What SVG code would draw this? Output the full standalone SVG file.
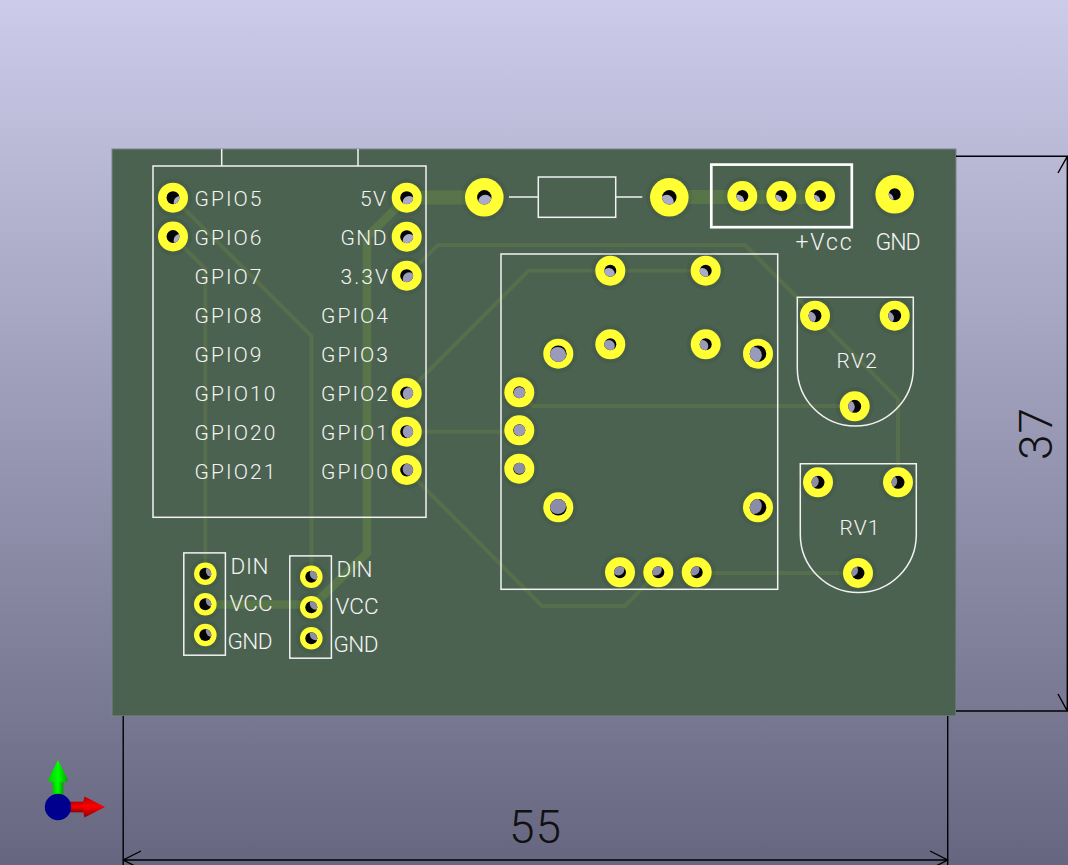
<svg xmlns="http://www.w3.org/2000/svg" width="1068" height="865" viewBox="0 0 1068 865">
<defs>
<linearGradient id="bg" x1="0" y1="0" x2="0" y2="1"><stop offset="0" stop-color="#ccccea"/><stop offset="1" stop-color="#666680"/></linearGradient>
<linearGradient id="gc" x1="0" y1="0" x2="1" y2="0"><stop offset="0" stop-color="#00c800"/><stop offset=".5" stop-color="#00ff00"/><stop offset="1" stop-color="#00a000"/></linearGradient>
<linearGradient id="rc" x1="0" y1="0" x2="0" y2="1"><stop offset="0" stop-color="#b00000"/><stop offset=".45" stop-color="#ff0000"/><stop offset="1" stop-color="#900000"/></linearGradient>
<clipPath id="h6"><circle r="6"/></clipPath>
<clipPath id="h65"><circle r="6.5"/></clipPath>
<clipPath id="h7"><circle r="7.2"/></clipPath>
<clipPath id="h8"><circle r="8.3"/></clipPath>
</defs>
<style>
.p15{fill:#ffff33;stroke:#000000;stroke-opacity:.05;stroke-width:8;paint-order:stroke}
.b{fill:#050505}
.g1{fill:#aaaacb}
.g2{fill:#9a9aba}
.g3{fill:#8c8ca8}
.thin{fill:none;stroke:#566e4b;stroke-width:4;stroke-linejoin:miter}
.mid{fill:none;stroke:#587549;stroke-width:8.5}
.thick{fill:none;stroke:#587549;stroke-width:14}
.silk{fill:none;stroke:#f2f2f2;stroke-width:1.5}
.silk2{fill:none;stroke:#ffffff;stroke-width:2.7}
.dim{fill:none;stroke:#000000;stroke-width:1.4}
text{font-family:"Roboto","Noto Sans","Liberation Sans",sans-serif;font-weight:300;fill:#f4f4f4;font-size:21px}
.c{font-size:22.5px}
.l{font-size:23px}
.big{fill:#111111;font-size:46px;font-weight:300}
</style>
<rect width="1068" height="865" fill="url(#bg)"/>
<rect id="board" x="112" y="149" width="844" height="567" fill="#4b6250" stroke="#75868a" stroke-width="1"/>

<g id="connectors">
<path class="thick" d="M407 197.5H484M669 197H820"/>
<path class="mid" d="M406.7 197.7L367 237V553L311.3 607M205.3 604.5H311.3"/>
<path class="thin" d="M173 197.7L311.5 336V576.7"/>
<path class="thin" d="M173 236.5L205.3 269V573.7"/>
<path class="thin" d="M406.7 275.7L438 245H745L898 399V482"/>
<path class="thin" d="M406.7 393L528.5 270.7H705.7"/>
<path class="thin" d="M406.7 431.7H519.3"/>
<path class="thin" d="M406.7 470L542 606H625L658.3 572.3"/>
<path class="thin" d="M519.3 392.3L533 406H854.7"/>
<path class="thin" d="M696.7 573H858"/>
</g>

<g id="U1">
<rect class="silk" x="153" y="166" width="273" height="351.3"/>
<path class="silk" d="M221.7 149V166M358 149V166"/>
<text x="194.5" y="205.7" textLength="67">GPIO5</text>
<text x="194.5" y="244.9" textLength="67">GPIO6</text>
<text x="194.5" y="283.9" textLength="67">GPIO7</text>
<text x="194.5" y="322.7" textLength="67">GPIO8</text>
<text x="194.5" y="361.7" textLength="67">GPIO9</text>
<text x="194.5" y="400.7" textLength="81">GPIO10</text>
<text x="194.5" y="439.7" textLength="81">GPIO20</text>
<text x="194.5" y="478.7" textLength="81">GPIO21</text>
<text x="360" y="205.7" textLength="26">5V</text>
<text x="340.5" y="244.9" textLength="46">GND</text>
<text x="340.5" y="283.9" textLength="47.5">3.3V</text>
<text x="321" y="322.7" textLength="67">GPIO4</text>
<text x="321" y="361.7" textLength="67">GPIO3</text>
<text x="321" y="400.7" textLength="67">GPIO2</text>
<text x="321" y="439.7" textLength="67">GPIO1</text>
<text x="321" y="478.7" textLength="67">GPIO0</text>
<g transform="translate(173 197.7)"><circle class="p15" r="15"/><g clip-path="url(#h65)"><circle class="b" r="7"/><circle class="g1" cx="7.2" cy="4.7" r="6.5"/></g></g>
<g transform="translate(173 236.5)"><circle class="p15" r="15"/><g clip-path="url(#h65)"><circle class="b" r="7"/><circle class="g1" cx="7.2" cy="3.9" r="6.5"/></g></g>
<g transform="translate(406.7 197.7)"><circle class="p15" r="15"/><g clip-path="url(#h65)"><circle class="b" r="7"/><circle class="g1" cx="2.5" cy="4.7" r="6.5"/></g></g>
<g transform="translate(406.7 236.7)"><circle class="p15" r="15"/><g clip-path="url(#h65)"><circle class="b" r="7"/><circle class="g1" cx="2.5" cy="3.9" r="6.5"/></g></g>
<g transform="translate(406.7 275.7)"><circle class="p15" r="15"/><g clip-path="url(#h65)"><circle class="b" r="7"/><circle class="g2" cx="2.5" cy="3.1" r="6.5"/></g></g>
<g transform="translate(406.7 393)"><circle class="p15" r="15"/><g clip-path="url(#h65)"><circle class="b" r="7"/><circle class="g2" cx="2.5" cy=".8" r="6.5"/></g></g>
<g transform="translate(406.7 431.7)"><circle class="p15" r="15"/><g clip-path="url(#h65)"><circle class="b" r="7"/><circle class="g2" cx="2.5" r="6.5"/></g></g>
<g transform="translate(406.7 470)"><circle class="p15" r="15"/><g clip-path="url(#h65)"><circle class="b" r="7"/><circle class="g3" cx="2.5" cy="-.8" r="6.5"/></g></g>
</g>

<g id="R1">
<rect class="silk" x="538.3" y="177" width="77.4" height="40.3"/>
<path class="silk" d="M509 197H538.3M615.7 197H642.3"/>
<g transform="translate(484.3 197.3)"><circle class="p15" r="19.3"/><g clip-path="url(#h7)"><circle class="b" r="8"/><circle class="g1" cx="1" cy="4.7" r="7.2"/></g></g>
<g transform="translate(669.3 197.3)"><circle class="p15" r="19.3"/><g clip-path="url(#h7)"><circle class="b" r="8"/><circle class="g1" cx="-2.7" cy="4.7" r="7.2"/></g></g>
</g>

<g id="J_Vcc">
<rect class="silk2" x="711.3" y="164.6" width="140.5" height="62.6"/>
<g transform="translate(742.3 196)"><circle class="p15" r="15"/><g clip-path="url(#h6)"><circle class="b" r="7"/><circle class="g1" cx="-4.2" cy="4.7" r="6"/></g></g>
<g transform="translate(781.3 196)"><circle class="p15" r="15"/><g clip-path="url(#h6)"><circle class="b" r="7"/><circle class="g1" cx="-5" cy="4.7" r="6"/></g></g>
<g transform="translate(820 196)"><circle class="p15" r="15"/><g clip-path="url(#h6)"><circle class="b" r="7"/><circle class="g1" cx="-5.7" cy="4.7" r="6"/></g></g>
<text class="l" x="795.5" y="250" textLength="56">+Vcc</text>
</g>

<g id="J_GND">
<g transform="translate(894.7 194.3)"><circle class="p15" r="19.3"/><g clip-path="url(#h6)"><circle class="b" r="7"/><circle class="g1" cx="-7.2" cy="4.7" r="6"/></g></g>
<text class="l" x="875.5" y="250" textLength="45">GND</text>
</g>

<g id="SW1">
<rect class="silk" x="501" y="254" width="276.7" height="335.3"/>
<g transform="translate(610.3 270.7)"><circle class="p15" r="15"/><g clip-path="url(#h6)"><circle class="b" r="7"/><circle class="g1" cx="-1.5" cy="3.2" r="6"/></g></g>
<g transform="translate(705.7 270.7)"><circle class="p15" r="15"/><g clip-path="url(#h6)"><circle class="b" r="7"/><circle class="g1" cx="-3.4" cy="3.2" r="6"/></g></g>
<g transform="translate(610.3 344.3)"><circle class="p15" r="15"/><g clip-path="url(#h6)"><circle class="b" r="7"/><circle class="g2" cx="-1.5" cy="1.7" r="6"/></g></g>
<g transform="translate(705.7 344.3)"><circle class="p15" r="15"/><g clip-path="url(#h6)"><circle class="b" r="7"/><circle class="g2" cx="-3.4" cy="1.7" r="6"/></g></g>
<g transform="translate(558.3 353.7)"><circle class="p15" r="15"/><g clip-path="url(#h8)"><circle class="b" r="9"/><circle class="g2" cx="-.5" cy="1.5" r="8.3"/></g></g>
<g transform="translate(758 353.7)"><circle class="p15" r="15"/><g clip-path="url(#h8)"><circle class="b" r="9"/><circle class="g2" cx="-4.5" cy="1.5" r="8.3"/></g></g>
<g transform="translate(519.3 392.3)"><circle class="p15" r="15"/><g clip-path="url(#h6)"><circle class="b" r="7"/><circle class="g2" cx=".3" cy=".8" r="6"/></g></g>
<g transform="translate(519.3 430.3)"><circle class="p15" r="15"/><g clip-path="url(#h6)"><circle class="b" r="7"/><circle class="g2" cx=".3" r="6"/></g></g>
<g transform="translate(519.3 468.7)"><circle class="p15" r="15"/><g clip-path="url(#h6)"><circle class="b" r="7"/><circle class="g3" cx=".3" cy="-.7" r="6"/></g></g>
<g transform="translate(558.3 507.3)"><circle class="p15" r="15"/><g clip-path="url(#h8)"><circle class="b" r="9"/><circle class="g3" cx="-.5" cy="-1.5" r="8.3"/></g></g>
<g transform="translate(758 507.3)"><circle class="p15" r="15"/><g clip-path="url(#h8)"><circle class="b" r="9"/><circle class="g3" cx="-4.5" cy="-1.5" r="8.3"/></g></g>
<g transform="translate(620 572.3)"><circle class="p15" r="15"/><g clip-path="url(#h6)"><circle class="b" r="7"/><circle class="g3" cx="-1.7" cy="-2.8" r="6"/></g></g>
<g transform="translate(658.3 572.3)"><circle class="p15" r="15"/><g clip-path="url(#h6)"><circle class="b" r="7"/><circle class="g3" cx="-2.5" cy="-2.8" r="6"/></g></g>
<g transform="translate(696.7 572.3)"><circle class="p15" r="15"/><g clip-path="url(#h6)"><circle class="b" r="7"/><circle class="g3" cx="-3.2" cy="-2.8" r="6"/></g></g>
</g>

<g id="RV2">
<path class="silk" d="M797.3 368V297.3H913.3V368A58 58 0 0 1 797.3 368Z"/>
<text x="836.5" y="367.5" textLength="40.5">RV2</text>
<g transform="translate(815 315.7)"><circle class="p15" r="15"/><g clip-path="url(#h65)"><circle class="b" r="7"/><circle class="g2" cx="-5.6" cy="2.3" r="6.5"/></g></g>
<g transform="translate(894.7 315.7)"><circle class="p15" r="15"/><g clip-path="url(#h65)"><circle class="b" r="7"/><circle class="g2" cx="-7.2" cy="2.3" r="6.5"/></g></g>
<g transform="translate(854.7 406.3)"><circle class="p15" r="15"/><g clip-path="url(#h65)"><circle class="b" r="7"/><circle class="g2" cx="-6.4" cy=".5" r="6.5"/></g></g>
</g>

<g id="RV1">
<path class="silk" d="M800.3 534.5V463.7H916.3V534.5A58 58 0 0 1 800.3 534.5Z"/>
<text x="839.5" y="534.5" textLength="40">RV1</text>
<g transform="translate(818 482.3)"><circle class="p15" r="15"/><g clip-path="url(#h65)"><circle class="b" r="7"/><circle class="g3" cx="-5.7" cy="-1" r="6.5"/></g></g>
<g transform="translate(898 482.3)"><circle class="p15" r="15"/><g clip-path="url(#h65)"><circle class="b" r="7"/><circle class="g3" cx="-7.3" cy="-1" r="6.5"/></g></g>
<g transform="translate(858 573)"><circle class="p15" r="15"/><g clip-path="url(#h65)"><circle class="b" r="7"/><circle class="g3" cx="-6.5" cy="-2.8" r="6.5"/></g></g>
</g>

<g id="J1">
<rect class="silk" x="183.8" y="552.9" width="41.6" height="102.3"/>
<text class="c" x="230.5" y="574" textLength="38">DIN</text>
<text class="c" x="229.5" y="611" textLength="43">VCC</text>
<text class="c" x="227.5" y="649" textLength="45">GND</text>
<g transform="translate(205.3 573.7)"><circle class="p15" r="11.3"/><g clip-path="url(#h6)"><circle class="b" r="7"/><circle class="g3" cx="6.5" cy="-2.8" r="6"/></g></g>
<g transform="translate(205.3 604.3)"><circle class="p15" r="11.3"/><g clip-path="url(#h6)"><circle class="b" r="7"/><circle class="g3" cx="6.5" cy="-3.5" r="6"/></g></g>
<g transform="translate(205.3 635)"><circle class="p15" r="11.3"/><g clip-path="url(#h6)"><circle class="b" r="7"/><circle class="g3" cx="6.5" cy="-4" r="6"/></g></g>
</g>

<g id="J2">
<rect class="silk" x="289.8" y="555.9" width="41.6" height="102.3"/>
<text class="c" x="336.5" y="577" textLength="36">DIN</text>
<text class="c" x="335.5" y="614" textLength="43">VCC</text>
<text class="c" x="333.5" y="652" textLength="45">GND</text>
<g transform="translate(311.3 576.7)"><circle class="p15" r="11.3"/><g clip-path="url(#h6)"><circle class="b" r="7"/><circle class="g3" cx="4.5" cy="-2.9" r="6"/></g></g>
<g transform="translate(311.3 607.3)"><circle class="p15" r="11.3"/><g clip-path="url(#h6)"><circle class="b" r="7"/><circle class="g3" cx="4.5" cy="-3.5" r="6"/></g></g>
<g transform="translate(311.3 638.3)"><circle class="p15" r="11.3"/><g clip-path="url(#h6)"><circle class="b" r="7"/><circle class="g3" cx="4.5" cy="-4.1" r="6"/></g></g>
</g>

<g id="dimensions">
<path class="dim" d="M956 156.3H1067.3V711H956M1058 173L1067.3 156.3M1058 694L1067.3 711"/>
<path class="dim" d="M123.2 716V865M947.7 716V865M123.2 860H947.7M141 851L123.2 860L141 869M930 851L947.7 860L930 869"/>
<text class="big" x="535" y="843" text-anchor="middle" textLength="52">55</text>
<text class="big" transform="translate(1052 434) rotate(-90)" text-anchor="middle" textLength="52">37</text>
</g>

<g id="axes">
<rect x="52.7" y="781" width="10.6" height="16" fill="url(#gc)"/>
<path d="M58 760L47.5 781Q58 784 68.5 781Z" fill="url(#gc)"/>
<rect x="68" y="801.7" width="18" height="10.6" fill="url(#rc)"/>
<path d="M105 807L84.5 796.5Q81 807 84.5 817.5Z" fill="url(#rc)"/>
<circle cx="58" cy="807" r="13.2" fill="#00008f"/>
</g>
</svg>
